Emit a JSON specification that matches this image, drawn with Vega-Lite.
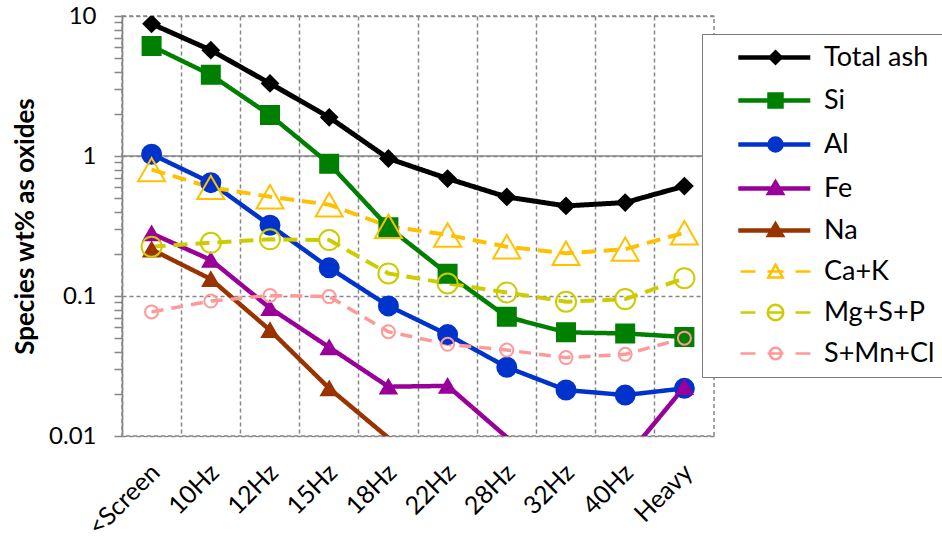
{
  "$schema": "https://vega.github.io/schema/vega-lite/v6.json",
  "width": 592,
  "height": 420,
  "autosize": {"type": "none"},
  "padding": {"left": 122, "top": 16, "right": 228, "bottom": 105},
  "background": "white",
  "datasets": {
    "species": [
      {"series": "Total ash", "fraction": "<Screen", "i": 0, "wt": 8.8},
      {"series": "Total ash", "fraction": "10Hz", "i": 1, "wt": 5.7},
      {"series": "Total ash", "fraction": "12Hz", "i": 2, "wt": 3.3},
      {"series": "Total ash", "fraction": "15Hz", "i": 3, "wt": 1.89},
      {"series": "Total ash", "fraction": "18Hz", "i": 4, "wt": 0.96},
      {"series": "Total ash", "fraction": "22Hz", "i": 5, "wt": 0.69},
      {"series": "Total ash", "fraction": "28Hz", "i": 6, "wt": 0.51},
      {"series": "Total ash", "fraction": "32Hz", "i": 7, "wt": 0.44},
      {"series": "Total ash", "fraction": "40Hz", "i": 8, "wt": 0.465},
      {"series": "Total ash", "fraction": "Heavy", "i": 9, "wt": 0.61},
      {"series": "Si", "fraction": "<Screen", "i": 0, "wt": 6.1},
      {"series": "Si", "fraction": "10Hz", "i": 1, "wt": 3.8},
      {"series": "Si", "fraction": "12Hz", "i": 2, "wt": 1.96},
      {"series": "Si", "fraction": "15Hz", "i": 3, "wt": 0.88},
      {"series": "Si", "fraction": "18Hz", "i": 4, "wt": 0.31},
      {"series": "Si", "fraction": "22Hz", "i": 5, "wt": 0.144},
      {"series": "Si", "fraction": "28Hz", "i": 6, "wt": 0.071},
      {"series": "Si", "fraction": "32Hz", "i": 7, "wt": 0.055},
      {"series": "Si", "fraction": "40Hz", "i": 8, "wt": 0.054},
      {"series": "Si", "fraction": "Heavy", "i": 9, "wt": 0.051},
      {"series": "Al", "fraction": "<Screen", "i": 0, "wt": 1.03},
      {"series": "Al", "fraction": "10Hz", "i": 1, "wt": 0.645},
      {"series": "Al", "fraction": "12Hz", "i": 2, "wt": 0.32},
      {"series": "Al", "fraction": "15Hz", "i": 3, "wt": 0.159},
      {"series": "Al", "fraction": "18Hz", "i": 4, "wt": 0.085},
      {"series": "Al", "fraction": "22Hz", "i": 5, "wt": 0.053},
      {"series": "Al", "fraction": "28Hz", "i": 6, "wt": 0.031},
      {"series": "Al", "fraction": "32Hz", "i": 7, "wt": 0.0213},
      {"series": "Al", "fraction": "40Hz", "i": 8, "wt": 0.0196},
      {"series": "Al", "fraction": "Heavy", "i": 9, "wt": 0.0219},
      {"series": "Fe", "fraction": "<Screen", "i": 0, "wt": 0.28},
      {"series": "Fe", "fraction": "10Hz", "i": 1, "wt": 0.181},
      {"series": "Fe", "fraction": "12Hz", "i": 2, "wt": 0.082},
      {"series": "Fe", "fraction": "15Hz", "i": 3, "wt": 0.043},
      {"series": "Fe", "fraction": "18Hz", "i": 4, "wt": 0.0225},
      {"series": "Fe", "fraction": "22Hz", "i": 5, "wt": 0.0228},
      {"series": "Fe", "fraction": "28Hz", "i": 6, "wt": 0.0098},
      {"series": "Fe", "fraction": "32Hz", "i": 7, "wt": 0.006},
      {"series": "Fe", "fraction": "40Hz", "i": 8, "wt": 0.0069},
      {"series": "Fe", "fraction": "Heavy", "i": 9, "wt": 0.0224},
      {"series": "Na", "fraction": "<Screen", "i": 0, "wt": 0.215},
      {"series": "Na", "fraction": "10Hz", "i": 1, "wt": 0.132},
      {"series": "Na", "fraction": "12Hz", "i": 2, "wt": 0.057},
      {"series": "Na", "fraction": "15Hz", "i": 3, "wt": 0.0219},
      {"series": "Na", "fraction": "18Hz", "i": 4, "wt": 0.0097},
      {"series": "Ca+K", "fraction": "<Screen", "i": 0, "wt": 0.8},
      {"series": "Ca+K", "fraction": "10Hz", "i": 1, "wt": 0.597},
      {"series": "Ca+K", "fraction": "12Hz", "i": 2, "wt": 0.512},
      {"series": "Ca+K", "fraction": "15Hz", "i": 3, "wt": 0.449},
      {"series": "Ca+K", "fraction": "18Hz", "i": 4, "wt": 0.315},
      {"series": "Ca+K", "fraction": "22Hz", "i": 5, "wt": 0.273},
      {"series": "Ca+K", "fraction": "28Hz", "i": 6, "wt": 0.225},
      {"series": "Ca+K", "fraction": "32Hz", "i": 7, "wt": 0.202},
      {"series": "Ca+K", "fraction": "40Hz", "i": 8, "wt": 0.216},
      {"series": "Ca+K", "fraction": "Heavy", "i": 9, "wt": 0.283},
      {"series": "Mg+S+P", "fraction": "<Screen", "i": 0, "wt": 0.225},
      {"series": "Mg+S+P", "fraction": "10Hz", "i": 1, "wt": 0.24},
      {"series": "Mg+S+P", "fraction": "12Hz", "i": 2, "wt": 0.254},
      {"series": "Mg+S+P", "fraction": "15Hz", "i": 3, "wt": 0.251},
      {"series": "Mg+S+P", "fraction": "18Hz", "i": 4, "wt": 0.145},
      {"series": "Mg+S+P", "fraction": "22Hz", "i": 5, "wt": 0.123},
      {"series": "Mg+S+P", "fraction": "28Hz", "i": 6, "wt": 0.106},
      {"series": "Mg+S+P", "fraction": "32Hz", "i": 7, "wt": 0.091},
      {"series": "Mg+S+P", "fraction": "40Hz", "i": 8, "wt": 0.095},
      {"series": "Mg+S+P", "fraction": "Heavy", "i": 9, "wt": 0.134},
      {"series": "S+Mn+Cl", "fraction": "<Screen", "i": 0, "wt": 0.077},
      {"series": "S+Mn+Cl", "fraction": "10Hz", "i": 1, "wt": 0.092},
      {"series": "S+Mn+Cl", "fraction": "12Hz", "i": 2, "wt": 0.101},
      {"series": "S+Mn+Cl", "fraction": "15Hz", "i": 3, "wt": 0.099},
      {"series": "S+Mn+Cl", "fraction": "18Hz", "i": 4, "wt": 0.0556},
      {"series": "S+Mn+Cl", "fraction": "22Hz", "i": 5, "wt": 0.0452},
      {"series": "S+Mn+Cl", "fraction": "28Hz", "i": 6, "wt": 0.0411},
      {"series": "S+Mn+Cl", "fraction": "32Hz", "i": 7, "wt": 0.0363},
      {"series": "S+Mn+Cl", "fraction": "40Hz", "i": 8, "wt": 0.0383},
      {"series": "S+Mn+Cl", "fraction": "Heavy", "i": 9, "wt": 0.05}
    ],
    "axisline": [{"v": 1}]
  },
  "data": {"name": "species"},
  "layer": [
    {
      "data": {"name": "axisline"},
      "mark": {"type": "rule", "color": "#868686", "strokeWidth": 1.5},
      "encoding": {
        "y": {"field": "v", "type": "quantitative", "scale": {"type": "log", "domain": [0.01, 10], "nice": false}}
      }
    },
    {
      "mark": {"type": "line", "clip": true, "strokeJoin": "round"},
      "encoding": {
        "x": {
          "field": "fraction",
          "type": "nominal",
          "sort": ["<Screen", "10Hz", "12Hz", "15Hz", "18Hz", "22Hz", "28Hz", "32Hz", "40Hz", "Heavy"],
          "scale": {"type": "band", "paddingInner": 0, "paddingOuter": 0},
          "axis": {
            "title": null,
            "bandPosition": 0,
            "grid": true,
            "gridColor": "#868686",
            "gridDash": [4, 3],
            "gridWidth": 1.5,
            "domain": false,
            "ticks": false,
            "labelAngle": -45,
            "labelAlign": "right",
            "labelBaseline": "middle",
            "labelFont": "Lato",
            "labelFontSize": 25,
            "labelColor": "black",
            "labelPadding": 32,
            "labelOffset": 4
          }
        },
        "y": {
          "field": "wt",
          "type": "quantitative",
          "scale": {"type": "log", "domain": [0.01, 10], "nice": false},
          "axis": {
            "title": "Species wt% as oxides",
            "titleFont": "Lato",
            "titleFontSize": 26,
            "titleFontWeight": "bold",
            "titleColor": "black",
            "titlePadding": 10,
            "values": [0.01, 0.02, 0.03, 0.04, 0.05, 0.06, 0.07, 0.08, 0.09, 0.1, 0.2, 0.3, 0.4, 0.5, 0.6, 0.7, 0.8, 0.9, 1, 2, 3, 4, 5, 6, 7, 8, 9, 10],
            "format": "~g",
            "labelExpr": "abs(log(datum.value)/LN10 - round(log(datum.value)/LN10)) < 0.000001 ? datum.label : ''",
            "labelFont": "Lato",
            "labelFontSize": 24,
            "labelColor": "black",
            "labelPadding": 18,
            "grid": true,
            "gridColor": "#868686",
            "gridDash": [4, 3],
            "gridWidth": 1.5,
            "gridOpacity": {"condition": {"test": "abs(log(datum.value)/LN10 - round(log(datum.value)/LN10)) < 0.000001", "value": 1}, "value": 0},
            "domainColor": "#868686",
            "domainWidth": 1.5,
            "tickColor": "#868686",
            "tickWidth": 1.5,
            "tickSize": 8
          }
        },
        "order": {"field": "i"},
        "color": {
          "field": "series",
          "type": "nominal",
          "scale": {
            "domain": ["Total ash", "Si", "Al", "Fe", "Na", "Ca+K", "Mg+S+P", "S+Mn+Cl"],
            "range": ["#000000", "#008000", "#0033CC", "#990099", "#993300", "#FFC000", "#CCCC00", "#FF9999"]
          },
          "legend": {
            "title": null,
            "orient": "none",
            "legendX": 580,
            "legendY": 18,
            "padding": 10,
            "fillColor": "white",
            "strokeColor": "#7a7a7a",
            "labelFont": "Lato",
            "labelFontSize": 27,
            "labelColor": "black",
            "labelOffset": 85,
            "labelLimit": 300,
            "labelExpr": "datum.label + '    '",
            "rowPadding": 13,
            "symbolSize": 256,
            "symbolOpacity": 1,
            "symbolType": {"expr": "['M1.6,0L10.6,0M6.25,-0.6L6.85,0L6.25,0.6L5.65,0Z', 'M1.6,0L10.6,0M5.5,-0.75L7,-0.75L7,0.75L5.5,0.75Z', 'M1.6,0L10.6,0M7,0C7,0.414 6.664,0.75 6.25,0.75C5.836,0.75 5.5,0.414 5.5,0C5.5,-0.414 5.836,-0.75 6.25,-0.75C6.664,-0.75 7,-0.414 7,0Z', 'M1.6,0L10.6,0M6.25,-0.7L7,0.55L5.5,0.55Z', 'M1.6,0L10.6,0M6.25,-0.7L7,0.55L5.5,0.55Z', 'M1.875,0L3.75,0M5.25,0L7.25,0M8.75,0L10.625,0M6.25,-0.85L7.15,0.75L5.35,0.75Z', 'M1.875,0L3.75,0M5.25,0L7.25,0M8.75,0L10.625,0M7.22,0C7.22,0.536 6.786,0.97 6.25,0.97C5.714,0.97 5.28,0.536 5.28,0C5.28,-0.536 5.714,-0.97 6.25,-0.97C6.786,-0.97 7.22,-0.536 7.22,0Z', 'M1.875,0L3.75,0M5.25,0L7.25,0M8.75,0L10.625,0M6.97,0C6.97,0.398 6.648,0.72 6.25,0.72C5.852,0.72 5.53,0.398 5.53,0C5.53,-0.398 5.852,-0.72 6.25,-0.72C6.648,-0.72 6.97,-0.398 6.97,0Z'][indexof(['Total ash','Si','Al','Fe','Na','Ca+K','Mg+S+P','S+Mn+Cl'], datum.value)]"},
            "symbolFillColor": {"expr": "indexof(['Total ash','Si','Al','Fe','Na'], datum.value) >= 0 ? ['#000000','#008000','#0033CC','#990099','#993300'][indexof(['Total ash','Si','Al','Fe','Na'], datum.value)] : 'transparent'"},
            "symbolStrokeWidth": {"expr": "indexof(['Ca+K','Mg+S+P','S+Mn+Cl'], datum.value) >= 0 ? 2.5 : 4.5"}
          }
        },
        "strokeDash": {
          "condition": [
            {"test": "datum.series === 'Ca+K' || datum.series === 'Mg+S+P'", "value": [14, 8]},
            {"test": "datum.series === 'S+Mn+Cl'", "value": [12, 8]}
          ],
          "value": [1, 0]
        },
        "strokeWidth": {
          "condition": [
            {"test": "datum.series === 'Total ash'", "value": 5},
            {"test": "datum.series === 'Ca+K' || datum.series === 'Mg+S+P'", "value": 4},
            {"test": "datum.series === 'S+Mn+Cl'", "value": 3.5}
          ],
          "value": 4.5
        }
      }
    },
    {
      "transform": [{"filter": "datum.wt >= 0.01"}],
      "mark": {"type": "point", "opacity": 1, "strokeWidth": 2, "clip": true},
      "encoding": {
        "x": {
          "field": "fraction",
          "type": "nominal",
          "sort": ["<Screen", "10Hz", "12Hz", "15Hz", "18Hz", "22Hz", "28Hz", "32Hz", "40Hz", "Heavy"],
          "scale": {"type": "band", "paddingInner": 0, "paddingOuter": 0}
        },
        "y": {
          "field": "wt",
          "type": "quantitative",
          "scale": {"type": "log", "domain": [0.01, 10], "nice": false}
        },
        "shape": {
          "condition": [
            {"test": "datum.series === 'Total ash'", "value": "diamond"},
            {"test": "datum.series === 'Si'", "value": "square"},
            {"test": "datum.series === 'Fe' || datum.series === 'Na' || datum.series === 'Ca+K'", "value": "triangle-up"}
          ],
          "value": "circle"
        },
        "size": {
          "condition": [
            {"test": "datum.series === 'Si'", "value": 324},
            {"test": "datum.series === 'Al'", "value": 361},
            {"test": "datum.series === 'Ca+K'", "value": 729},
            {"test": "datum.series === 'Mg+S+P'", "value": 400},
            {"test": "datum.series === 'S+Mn+Cl'", "value": 169}
          ],
          "value": 256
        },
        "stroke": {
          "condition": [
            {"test": "datum.series === 'Total ash'", "value": "#000000"},
            {"test": "datum.series === 'Si'", "value": "#008000"},
            {"test": "datum.series === 'Al'", "value": "#0033CC"},
            {"test": "datum.series === 'Fe'", "value": "#990099"},
            {"test": "datum.series === 'Na'", "value": "#993300"},
            {"test": "datum.series === 'Ca+K'", "value": "#FFC000"},
            {"test": "datum.series === 'Mg+S+P'", "value": "#CCCC00"}
          ],
          "value": "#FF9999"
        },
        "fill": {
          "condition": [
            {"test": "datum.series === 'Total ash'", "value": "#000000"},
            {"test": "datum.series === 'Si'", "value": "#008000"},
            {"test": "datum.series === 'Al'", "value": "#0033CC"},
            {"test": "datum.series === 'Fe'", "value": "#990099"},
            {"test": "datum.series === 'Na'", "value": "#993300"}
          ],
          "value": "transparent"
        }
      }
    }
  ],
  "config": {
    "font": "Lato",
    "view": {"stroke": "#868686", "strokeDash": [4, 3], "strokeWidth": 1.5}
  }
}
